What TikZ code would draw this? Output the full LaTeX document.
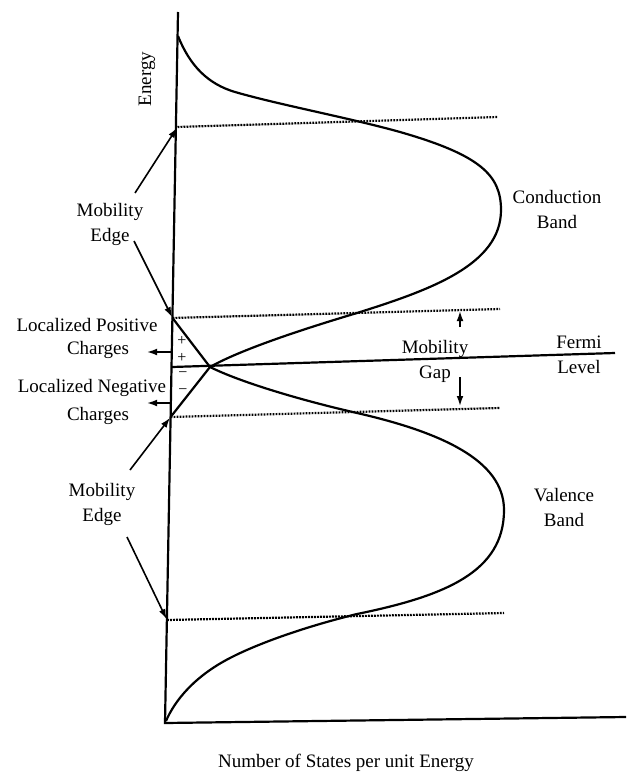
\documentclass[tikz,border=0pt]{standalone}
\usepackage{fontspec}
\setmainfont{Liberation Serif}
\usetikzlibrary{arrows.meta}

\begin{document}
\begin{tikzpicture}[x=0.5pt, y=-0.5pt,
    every node/.style={font=\fontsize{9.5}{12.5}\selectfont, align=center, inner sep=0pt},
    dos/.style={line width=1.1pt, line join=round},
    mobline/.style={line width=1.1pt, dash pattern=on 0.9pt off 0.6pt},
    pointer/.style={line width=0.8pt, -{Latex[length=5pt, width=3.4pt]}, shorten >=0.5pt},
    sign/.style={font=\fontsize{8}{8}\selectfont}]
  \useasboundingbox (0,0) rectangle (628,775);

  % axes
  \coordinate (top) at (178,12);
  \coordinate (orig) at (165,723);
  \coordinate (xend) at (626,717);
  \draw[line width=1.1pt] (top) -- (orig) -- (xend);
  \node[rotate=90] (energy) at (147,79) {Energy};
  \node (states) at (346,763) {Number of States per unit Energy};

  % mobility edges and Fermi level
  \coordinate (cbedge) at (177.5,127);
  \coordinate (cbtail) at (172.5,318);
  \coordinate (vbtail) at (170.6,417);
  \coordinate (vbedge) at (167,620);
  \coordinate (fl) at (172,367);
  \coordinate (cross) at (210,367);
  \draw[mobline] (cbedge) -- (498,117);
  \draw[mobline] (cbtail) -- (500,309);
  \draw[mobline] (vbtail) -- (500,408);
  \draw[mobline] (vbedge) -- (504,613);
  \draw[line width=1.1pt] (fl) -- (615,353);

  % density of states
  \draw[dos] (178,36) .. controls (190,66) and (208,84) .. (235,92)
    .. controls (280,105) and (350,118) .. (400,132)
    .. controls (480,155) and (501,175) .. (501,210)
    .. controls (501,265) and (430,290) .. (357,313)
    .. controls (300,330) and (240,350) .. (cross) -- (vbtail);
  \draw[dos] (cbtail) -- (cross)
    .. controls (240,382) and (300,400) .. (357,413)
    .. controls (440,432) and (504,460) .. (504,510)
    .. controls (504,572) and (445,596) .. (357,614)
    .. controls (300,628) and (255,645) .. (230,658)
    .. controls (195,676) and (175,700) .. (166,721);

  % labels
  \node (cb) at (557,210) {Conduction\\Band};
  \node (vb) at (564,507) {Valence\\Band};
  \node (fermi) at (579,355) {Fermi\\Level};
  \node (gap) at (435,361) {Mobility\\Gap};
  \draw[pointer] (460,327) -- (460,310);
  \draw[pointer] (460,377) -- (460,407);

  \node (metop) at (110,224.5) {Mobility\\Edge};
  \coordinate (mt1) at (135,193);
  \coordinate (mt2) at (134,241);
  \draw[pointer] (mt1) -- (cbedge);
  \draw[pointer] (mt2) -- (cbtail);

  \node (mebot) at (102,504.5) {Mobility\\Edge};
  \coordinate (mb1) at (130,470);
  \coordinate (mb2) at (127,537);
  \draw[pointer] (mb1) -- (vbtail);
  \draw[pointer] (mb2) -- (vbedge);

  \node (lpos) at (87,325) {Localized Positive};
  \node (lposb) at (98,350) {Charges};
  \node (lneg) at (92,388) {Localized Negative};
  \node (lnegb) at (98,416) {Charges};
  \coordinate (pa) at (172,352);
  \coordinate (pb) at (146,352);
  \coordinate (na) at (172,403);
  \coordinate (nb) at (146,403);
  \draw[pointer] (pa) -- (pb);
  \draw[pointer] (na) -- (nb);

  \foreach \y in {341,358} \node[sign] at (182,\y) {+};
  \foreach \y in {375,392} \node[sign] at (183,\y) {−};
\end{tikzpicture}
\end{document}
